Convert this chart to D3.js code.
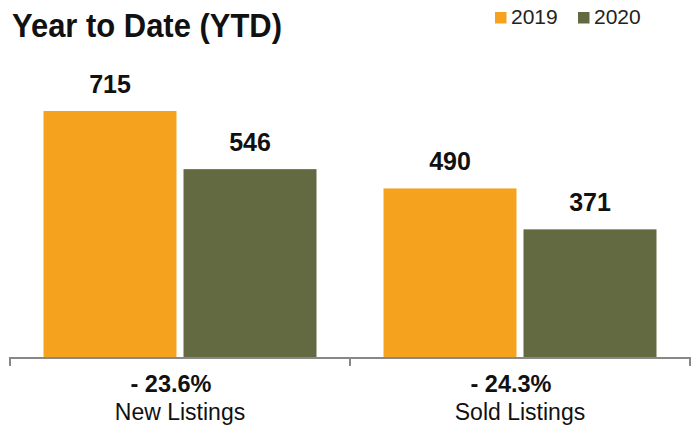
<!DOCTYPE html>
<html>
<head>
<meta charset="utf-8">
<script src="https://cdn.jsdelivr.net/npm/d3@7"></script>
<style>
  body { margin: 0; background: #fff; }
  svg { display: block; font-family: "Liberation Sans", Arial, sans-serif; }
</style>
</head>
<body>
<svg width="697" height="428"></svg>
<script>
var categories = ['New Listings', 'Sold Listings'];
var changes = ['- 23.6%', '- 24.3%'];
var seriesNames = ['2019', '2020'];
var values2019 = [715, 490];
var values2020 = [546, 371];
var colors = ['#F5A31F', '#636A42'];

var svg = d3.select('svg');
var baseline = 357;

var x0 = d3.scaleBand()
    .domain(categories)
    .range([10, 690])
    .paddingInner(0)
    .paddingOuter(0);

var x1 = d3.scaleBand()
    .domain(seriesNames)
    .range([33.5, x0.bandwidth() - 33.5])
    .paddingInner(0.05);

var y = d3.scaleLinear()
    .domain([0, 715])
    .range([baseline, 111]);

var rows = categories.map(function(c, i) {
    return { cat: c, change: changes[i], vals: [values2019[i], values2020[i]] };
});

// title (condensed look via textLength)
svg.append('text')
    .attr('x', 12)
    .attr('y', 37)
    .attr('textLength', 270)
    .attr('lengthAdjust', 'spacingAndGlyphs')
    .style('font-weight', 'bold')
    .style('font-size', '33px')
    .style('fill', '#111')
    .text('Year to Date (YTD)');

// legend
var legend = svg.append('g').attr('transform', 'translate(495, 0)');
seriesNames.forEach(function(s, i) {
    var lg = legend.append('g').attr('transform', 'translate(' + (i * 83) + ', 0)');
    lg.append('rect')
        .attr('x', 0).attr('y', 12)
        .attr('width', 11.5).attr('height', 11.5)
        .style('fill', colors[i]);
    lg.append('text')
        .attr('x', 16).attr('y', 23.5)
        .style('font-size', '21px')
        .style('fill', '#222')
        .text(s);
});

var groups = svg.selectAll('g.cat')
    .data(rows)
    .enter()
    .append('g')
    .attr('class', 'cat')
    .attr('transform', function(d) { return 'translate(' + x0(d.cat) + ', 0)'; });

groups.selectAll('rect')
    .data(function(d) { return d.vals.map(function(v, i) { return { key: seriesNames[i], v: v, i: i }; }); })
    .enter()
    .append('rect')
    .attr('x', function(d) { return x1(d.key); })
    .attr('y', function(d) { return y(d.v); })
    .attr('width', x1.bandwidth())
    .attr('height', function(d) { return baseline - y(d.v); })
    .style('fill', function(d) { return colors[d.i]; });

groups.selectAll('text.val')
    .data(function(d) { return d.vals.map(function(v, i) { return { key: seriesNames[i], v: v }; }); })
    .enter()
    .append('text')
    .attr('class', 'val')
    .attr('x', function(d) { return x1(d.key) + x1.bandwidth() / 2; })
    .attr('y', function(d) { return y(d.v) - 18; })
    .attr('text-anchor', 'middle')
    .style('font-weight', 'bold')
    .style('font-size', '25px')
    .style('fill', '#111')
    .text(function(d) { return d.v; });

// axis
var axisG = svg.append('g').attr('transform', 'translate(0,' + (baseline + 1) + ')');
axisG.append('line')
    .attr('x1', x0.range()[0]).attr('x2', x0.range()[1])
    .attr('y1', 0).attr('y2', 0)
    .style('stroke', '#888').style('stroke-width', 2);
var tickX = [x0.range()[0]].concat(categories.map(function(c) { return x0(c) + x0.bandwidth(); }));
axisG.selectAll('line.tick')
    .data(tickX)
    .enter()
    .append('line')
    .attr('class', 'tick')
    .attr('x1', function(d) { return d; }).attr('x2', function(d) { return d; })
    .attr('y1', -1).attr('y2', 8)
    .style('stroke', '#888').style('stroke-width', 2);

groups.append('text')
    .attr('x', x0.bandwidth() / 2 - 9)
    .attr('y', 392)
    .attr('text-anchor', 'middle')
    .style('font-weight', 'bold')
    .style('font-size', '23.5px')
    .style('fill', '#111')
    .text(function(d) { return d.change; });

groups.append('text')
    .attr('x', x0.bandwidth() / 2)
    .attr('y', 420)
    .attr('text-anchor', 'middle')
    .style('font-size', '23px')
    .style('fill', '#111')
    .text(function(d) { return d.cat; });
</script>
</body>
</html>
